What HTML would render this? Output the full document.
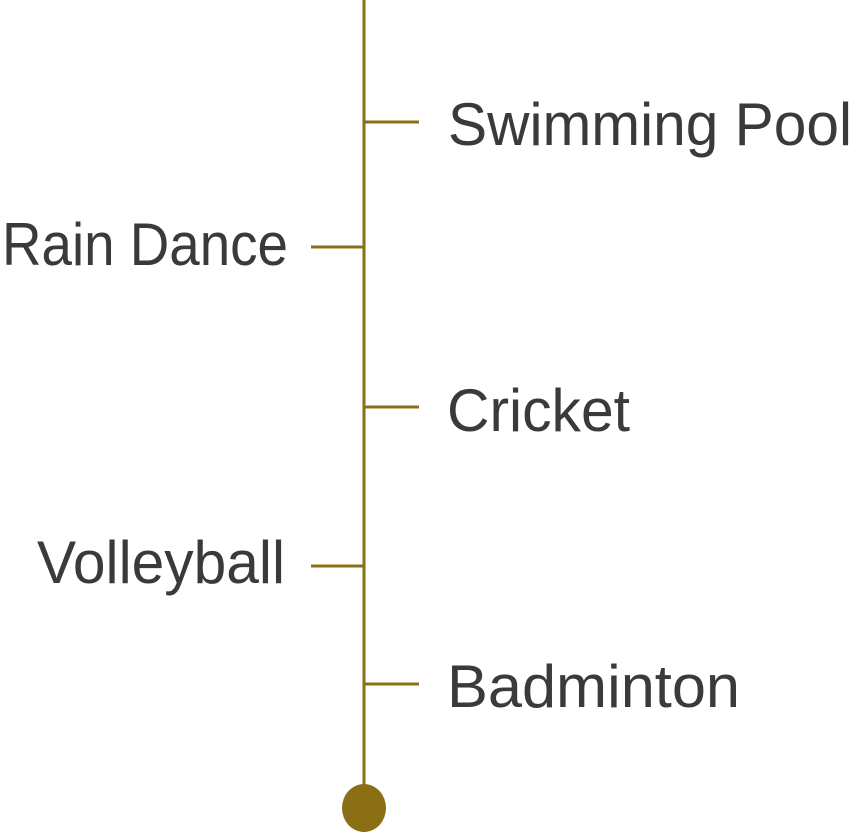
<!DOCTYPE html>
<html><head><meta charset="utf-8"><style>html,body{margin:0;padding:0;background:#fff;}svg{display:block;}</style></head>
<body>
<svg width="866" height="834" viewBox="0 0 866 834" xmlns="http://www.w3.org/2000/svg">
<g stroke="#8B6F14" stroke-width="3">
<line x1="364" y1="0" x2="364" y2="800"/>
<line x1="364" y1="122" x2="419" y2="122"/>
<line x1="311" y1="247" x2="364" y2="247"/>
<line x1="364" y1="407" x2="419" y2="407"/>
<line x1="311" y1="566" x2="364" y2="566"/>
<line x1="364" y1="684" x2="419" y2="684"/>
</g>
<ellipse cx="364" cy="808" rx="22" ry="24" fill="#8B6F14"/>
<g font-family="Liberation Sans, sans-serif" font-size="60" fill="#3a3a3a">
<text x="448" y="145" textLength="404" lengthAdjust="spacingAndGlyphs">Swimming Pool</text>
<text x="2" y="265" textLength="286" lengthAdjust="spacingAndGlyphs">Rain Dance</text>
<text x="447" y="431" textLength="183" lengthAdjust="spacingAndGlyphs">Cricket</text>
<text x="37" y="583" textLength="248" lengthAdjust="spacingAndGlyphs">Volleyball</text>
<text x="447" y="707" textLength="293" lengthAdjust="spacingAndGlyphs">Badminton</text>
</g>
</svg>
</body></html>
